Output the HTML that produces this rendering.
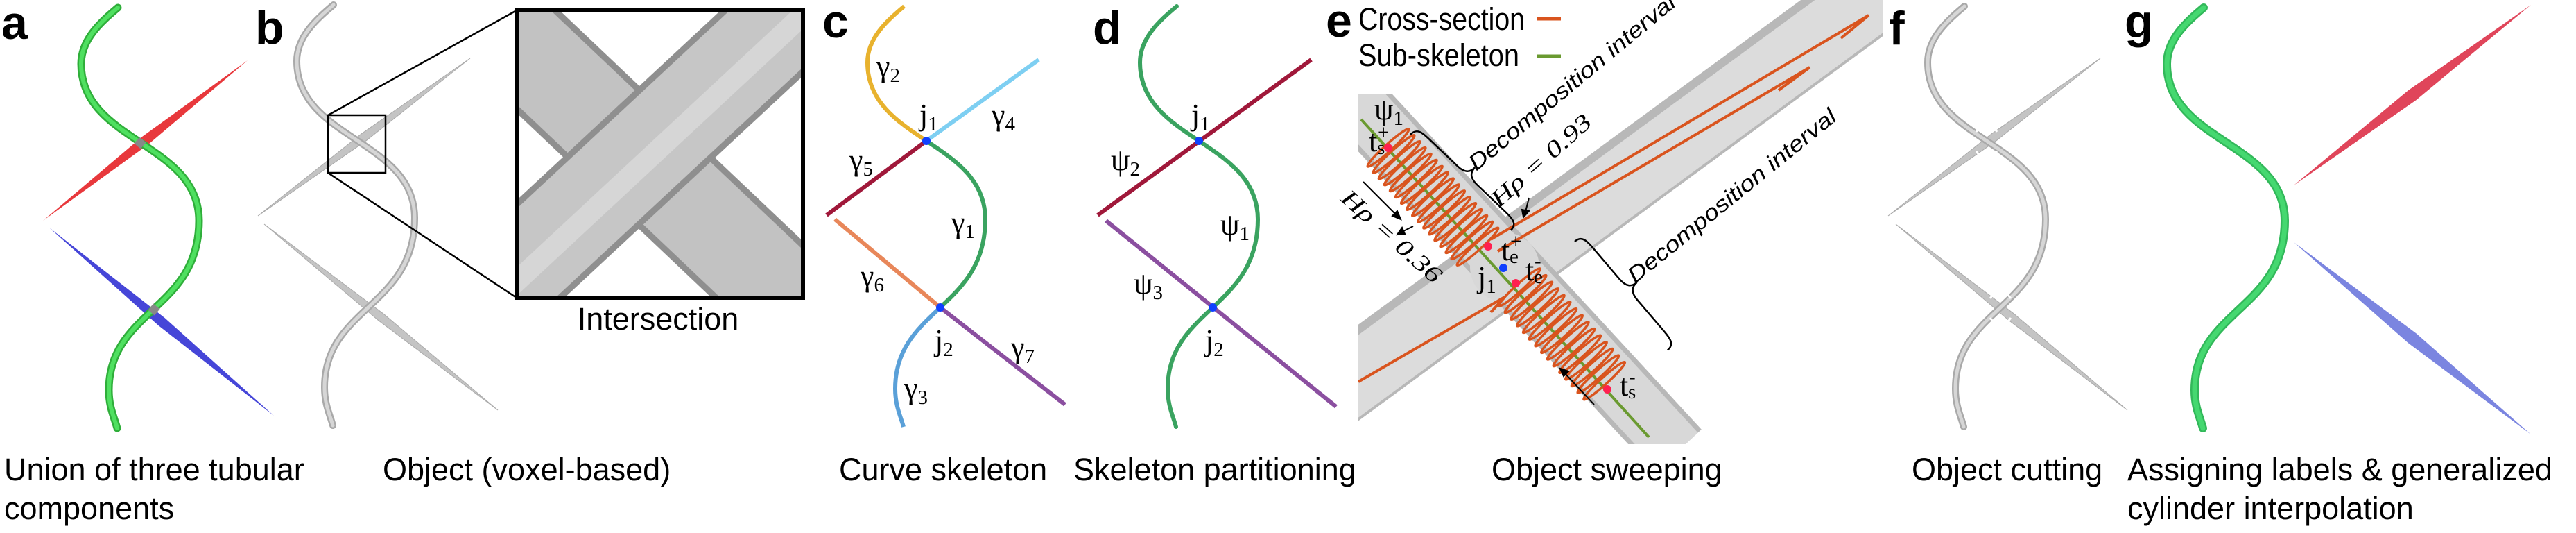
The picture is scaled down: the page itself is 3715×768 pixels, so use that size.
<!DOCTYPE html>
<html><head><meta charset="utf-8"><style>
html,body{margin:0;padding:0;background:#fff;}
svg{display:block;}
.cap{font-family:"Liberation Sans",sans-serif;font-size:45px;fill:#000;}
.lab{font-family:"Liberation Sans",sans-serif;font-weight:bold;font-size:68px;fill:#000;}
.m{font-family:"Liberation Serif",serif;font-size:44px;fill:#000;}
.ms{font-family:"Liberation Serif",serif;font-size:29px;fill:#000;}
.it{font-family:"Liberation Sans",sans-serif;font-style:italic;font-size:32px;fill:#000;}
.mi{font-family:"Liberation Serif",serif;font-style:italic;font-size:34px;fill:#000;}
</style></head><body>
<svg width="3715" height="768" viewBox="0 0 3715 768" xmlns="http://www.w3.org/2000/svg">
<defs>
<path id="hx" d="M53,9 C28,30 0,55 0,90 C0,146.5 42.5,174.75 85,203 C127.5,231.25 170,259.5 170,316 C170,380.5 137.5,412.75 105,443 C72.5,473.75 40,502.5 40,560 C40,585 48,600 52,615" fill="none" stroke-linecap="round"/>
<clipPath id="boxclip"><rect x="748" y="18" width="407" height="408"/></clipPath>
<clipPath id="eclip"><polygon points="1959,0 2715,0 2715,640 1959,640"/></clipPath>
<ellipse id="coil" cx="0" cy="0" rx="5" ry="40" fill="none" stroke="#d9541e" stroke-width="3.5"/>
</defs>

<!-- Panel a -->
<text class="lab" x="2" y="56">a</text>
<polygon points="62,318 205,197 357,87 214,208" fill="#e8383c"/>
<polygon points="71,328 237.5,458 395,599 228.5,469" fill="#4646d8"/>
<use href="#hx" transform="translate(117,2)" stroke="#2fae3a" stroke-width="11"/>
<use href="#hx" transform="translate(117,2)" stroke="#4fe060" stroke-width="6"/>
<rect x="196" y="200" width="12" height="12" fill="#888" transform="rotate(40 202 206)"/>
<rect x="216" y="440" width="12" height="12" fill="#888" transform="rotate(40 222 446)"/>
<text class="cap" x="6" y="692">Union of three tubular</text>
<text class="cap" x="6" y="748">components</text>

<!-- Panel b -->
<text class="lab" x="368" y="63">b</text>
<polygon points="372,311 521.4,192.7 678,84 528.6,202.3" fill="#c4c4c4" stroke="#aaa" stroke-width="1"/>
<polygon points="381,323 553.2,452.3 718,591 545.8,461.7" fill="#c4c4c4" stroke="#aaa" stroke-width="1"/>
<use href="#hx" transform="translate(428,-2)" stroke="#a9a9a9" stroke-width="10"/>
<use href="#hx" transform="translate(428,-2)" stroke="#d6d6d6" stroke-width="5"/>
<rect x="473" y="166" width="83" height="83" fill="none" stroke="#000" stroke-width="2.5"/>
<line x1="473" y1="166" x2="745" y2="15" stroke="#000" stroke-width="2.5"/>
<line x1="473" y1="249" x2="745" y2="429" stroke="#000" stroke-width="2.5"/>
<rect x="745" y="15" width="413" height="414" fill="#fff"/>
<g clip-path="url(#boxclip)">
<line x1="640" y1="-40" x2="1210" y2="500" stroke="#8f8f8f" stroke-width="150"/>
<line x1="640" y1="-40" x2="1210" y2="500" stroke="#c2c2c2" stroke-width="132"/>
<line x1="660" y1="470" x2="1230" y2="-60" stroke="#8f8f8f" stroke-width="150"/>
<line x1="660" y1="470" x2="1230" y2="-60" stroke="#c6c6c6" stroke-width="132"/>
<line x1="665" y1="480" x2="1235" y2="-50" stroke="#d6d6d6" stroke-width="30"/>
</g>
<rect x="745" y="15" width="413" height="414" fill="none" stroke="#000" stroke-width="6"/>
<text class="cap" x="949" y="475" text-anchor="middle">Intersection</text>
<text class="cap" x="552" y="692">Object (voxel-based)</text>

<!-- Panel c -->
<text class="lab" x="1186" y="54">c</text>
<line x1="1336" y1="203" x2="1498" y2="86" stroke="#7ecff2" stroke-width="6"/>
<line x1="1336" y1="203" x2="1192" y2="310" stroke="#a0183a" stroke-width="6"/>
<line x1="1204" y1="316" x2="1356" y2="443" stroke="#e8875a" stroke-width="6"/>
<line x1="1356" y1="443" x2="1536" y2="583" stroke="#8b4fa0" stroke-width="6"/>
<g transform="translate(1251,0)" fill="none" stroke-width="6">
<path d="M53,9 C28,30 0,55 0,90 C0,146.5 42.5,174.75 85,203" stroke="#e8b22e"/>
<path d="M85,203 C127.5,231.25 170,259.5 170,316 C170,380.5 137.5,412.75 105,443" stroke="#3aa360"/>
<path d="M105,443 C72.5,473.75 40,502.5 40,560 C40,585 48,600 52,615" stroke="#5aa0d8"/>
</g>
<circle cx="1336" cy="203" r="6" fill="#1040ff"/>
<circle cx="1356" cy="443" r="6" fill="#1040ff"/>
<text class="m" x="1264" y="110">γ<tspan class="ms" dy="8">2</tspan></text>
<text class="m" x="1326" y="180">j<tspan class="ms" dy="8">1</tspan></text>
<text class="m" x="1430" y="180">γ<tspan class="ms" dy="8">4</tspan></text>
<text class="m" x="1225" y="245">γ<tspan class="ms" dy="8">5</tspan></text>
<text class="m" x="1372" y="335">γ<tspan class="ms" dy="8">1</tspan></text>
<text class="m" x="1241" y="412">γ<tspan class="ms" dy="8">6</tspan></text>
<text class="m" x="1348" y="505">j<tspan class="ms" dy="8">2</tspan></text>
<text class="m" x="1458" y="515">γ<tspan class="ms" dy="8">7</tspan></text>
<text class="m" x="1304" y="574">γ<tspan class="ms" dy="8">3</tspan></text>
<text class="cap" x="1210" y="692">Curve skeleton</text>

<!-- Panel d -->
<text class="lab" x="1576" y="63">d</text>
<line x1="1583" y1="310" x2="1891" y2="86" stroke="#a0183a" stroke-width="6"/>
<line x1="1595" y1="318" x2="1927" y2="586" stroke="#8b4fa0" stroke-width="6"/>
<use href="#hx" transform="translate(1644,0)" stroke="#3aa360" stroke-width="6"/>
<circle cx="1729" cy="203" r="6" fill="#1040ff"/>
<circle cx="1749" cy="443" r="6" fill="#1040ff"/>
<text class="m" x="1718" y="180">j<tspan class="ms" dy="8">1</tspan></text>
<text class="m" x="1602" y="245">ψ<tspan class="ms" dy="8">2</tspan></text>
<text class="m" x="1760" y="338">ψ<tspan class="ms" dy="8">1</tspan></text>
<text class="m" x="1635" y="423">ψ<tspan class="ms" dy="8">3</tspan></text>
<text class="m" x="1738" y="505">j<tspan class="ms" dy="8">2</tspan></text>
<text class="cap" x="1548" y="692">Skeleton partitioning</text>

<!-- Panel e -->
<g clip-path="url(#eclip)">
<line x1="1880" y1="595" x2="2760" y2="-50" stroke="#b8b8b8" stroke-width="112"/>
<line x1="1880" y1="600" x2="2760" y2="-45" stroke="#dcdcdc" stroke-width="96"/>
<line x1="1940" y1="130" x2="2420" y2="650" stroke="#b8b8b8" stroke-width="92"/>
<line x1="1940" y1="130" x2="2420" y2="650" stroke="#d8d8d8" stroke-width="78"/>
<circle cx="2170" cy="385" r="50" fill="#d8d8d8"/>
</g>
<rect x="1940" y="0" width="19" height="640" fill="#fff"/>
<rect x="1959" y="0" width="120" height="135" fill="#fff"/>
<text class="lab" x="1912" y="53">e</text>
<text class="cap" x="1959" y="43" font-size="42" textLength="240" lengthAdjust="spacingAndGlyphs">Cross-section</text>
<line x1="2216" y1="27" x2="2251" y2="27" stroke="#d9541e" stroke-width="5"/>
<text class="cap" x="1959" y="95" font-size="42" textLength="232" lengthAdjust="spacingAndGlyphs">Sub-skeleton</text>
<line x1="2216" y1="81" x2="2251" y2="81" stroke="#6a9a30" stroke-width="5"/>
<line x1="1963" y1="172" x2="2378" y2="630" stroke="#6a9a30" stroke-width="4"/>
<path d="M2150,345 L2695,22 L2655,55 M2160,362 L2610,97 L2565,130" fill="none" stroke="#d9541e" stroke-width="4"/>
<path d="M1959,550 L2170,428 L2150,450" fill="none" stroke="#d9541e" stroke-width="4"/>
<g transform="translate(2002,213) rotate(47.8)">
<use href="#coil" x="0"/><use href="#coil" x="12"/><use href="#coil" x="24"/><use href="#coil" x="36"/><use href="#coil" x="48"/><use href="#coil" x="60"/><use href="#coil" x="72"/><use href="#coil" x="84"/><use href="#coil" x="96"/><use href="#coil" x="108"/><use href="#coil" x="120"/><use href="#coil" x="132"/><use href="#coil" x="144"/><use href="#coil" x="156"/><use href="#coil" x="168"/><use href="#coil" x="180"/><use href="#coil" x="192"/>
</g>
<g transform="translate(2186,408) rotate(47.8)">
<use href="#coil" x="8"/><use href="#coil" x="21"/><use href="#coil" x="34"/><use href="#coil" x="47"/><use href="#coil" x="60"/><use href="#coil" x="73"/><use href="#coil" x="86"/><use href="#coil" x="99"/><use href="#coil" x="112"/><use href="#coil" x="125"/><use href="#coil" x="138"/><use href="#coil" x="151"/><use href="#coil" x="164"/><use href="#coil" x="177"/><use href="#coil" x="190"/>
</g>
<circle cx="2002" cy="213" r="6" fill="#ff2050"/>
<circle cx="2146" cy="355" r="6" fill="#ff2050"/>
<circle cx="2168" cy="386" r="6" fill="#1040ff"/>
<circle cx="2186" cy="408" r="6" fill="#ff2050"/>
<circle cx="2318" cy="561" r="6" fill="#ff2050"/>
<g transform="translate(2034,194) rotate(43.6)" fill="none" stroke="#000" stroke-width="2.5">
<path d="M0,0 C0,-14 10,-14 30,-14 L80,-14 C95,-14 100,-20 100,-30 C100,-20 105,-14 120,-14 L170,-14 C190,-14 200,-14 200,0"/>
</g>
<g transform="translate(2271,348) rotate(49.5)" fill="none" stroke="#000" stroke-width="2.5">
<path d="M0,0 C0,-14 10,-14 30,-14 L83,-14 C98,-14 103,-20 103,-30 C103,-20 108,-14 123,-14 L176,-14 C196,-14 206,-14 206,0"/>
</g>
<g stroke="#000" stroke-width="2" fill="#000">
<line x1="1966" y1="262" x2="2014" y2="310"/><polygon points="2020,316 2008,311 2015,304"/>
<line x1="2038" y1="326" x2="2022" y2="334"/><polygon points="2015,338 2022,328 2026,337"/>
<line x1="2205" y1="285" x2="2200" y2="305"/><polygon points="2197,313 2195,302 2205,304"/>
<line x1="2299" y1="583" x2="2256" y2="537"/><polygon points="2250,531 2262,535 2255,542"/>
</g>
<text class="it" transform="translate(2129,247) rotate(-39.6)" textLength="376" lengthAdjust="spacingAndGlyphs">Decomposition interval</text>
<text class="it" transform="translate(2358,409) rotate(-39)" textLength="377" lengthAdjust="spacingAndGlyphs">Decomposition interval</text>
<text class="mi" transform="translate(2162,300) rotate(-41.7)" textLength="182" lengthAdjust="spacingAndGlyphs">Hρ = 0.93</text>
<text class="mi" transform="translate(1932,288) rotate(42)" textLength="182" lengthAdjust="spacingAndGlyphs">Hρ = 0.36</text>
<text class="m" x="1982" y="172">ψ<tspan class="ms" dy="8">1</tspan></text>
<text class="m" x="1974" y="218">t</text><text class="ms" x="1986" y="222">s</text><text class="ms" x="1987" y="200">+</text>
<text class="m" x="2165" y="375">t</text><text class="ms" x="2177" y="379">e</text><text class="ms" x="2178" y="357">+</text>
<text class="m" x="2131" y="414">j<tspan class="ms" dy="8">1</tspan></text>
<text class="m" x="2200" y="404">t</text><text class="ms" x="2212" y="408">e</text><text class="ms" x="2213" y="385">-</text>
<text class="m" x="2336" y="570">t</text><text class="ms" x="2348" y="574">s</text><text class="ms" x="2349" y="552">-</text>
<text class="cap" x="2151" y="692">Object sweeping</text>

<!-- Panel f -->
<text class="lab" x="2724" y="64">f</text>
<polygon points="2723,311 2872.4,192.7 3029,84 2879.6,202.3" fill="#c4c4c4" stroke="#aaa" stroke-width="1"/>
<polygon points="2734,323 2904.7,452.3 3068,591 2897.3,461.7" fill="#c4c4c4" stroke="#aaa" stroke-width="1"/>
<use href="#hx" transform="translate(2780,0)" stroke="#a9a9a9" stroke-width="10"/>
<use href="#hx" transform="translate(2780,0)" stroke="#d6d6d6" stroke-width="5"/>
<g stroke="#fff" stroke-width="3" fill="none">
<path d="M2850,190 L2858,180 M2872,180 L2880,190 M2850,218 L2858,228 M2872,228 L2880,218"/>
<path d="M2870,430 L2878,420 M2892,420 L2900,430 M2870,458 L2878,468 M2892,468 L2900,458"/>
</g>
<text class="cap" x="2757" y="692">Object cutting</text>

<!-- Panel g -->
<text class="lab" x="3064" y="54">g</text>
<polygon points="3308,267 3473.6,129.8 3650,7 3484.4,144.2" fill="#e0455a"/>
<polygon points="3308,349 3484.7,480.5 3650,626 3473.3,494.5" fill="#7b85e0"/>
<use href="#hx" transform="translate(3125,2)" stroke="#32b85a" stroke-width="12"/>
<use href="#hx" transform="translate(3125,2)" stroke="#45d870" stroke-width="7"/>
<text class="cap" x="3068" y="692">Assigning labels &amp; generalized</text>
<text class="cap" x="3068" y="748">cylinder interpolation</text>
</svg>
</body></html>
